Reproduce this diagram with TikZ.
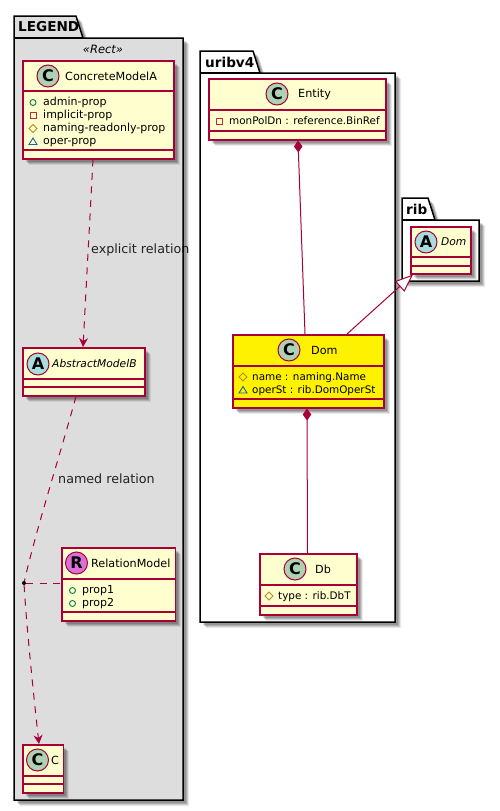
\documentclass[tikz,border=0pt]{standalone}
\usepackage{fontspec}
\setmainfont{DejaVu Sans}
\usetikzlibrary{arrows.meta,shadows}
\definecolor{umlBorder}{HTML}{A80036}
\definecolor{umlFill}{HTML}{FEFECE}
\definecolor{umlGray}{HTML}{DDDDDD}
\definecolor{umlClassSpot}{HTML}{ADD1B2}
\definecolor{umlAbstractSpot}{HTML}{A9DCDF}
\definecolor{umlRelationSpot}{HTML}{DA70D6}
\definecolor{iconPublic}{HTML}{038048}
\definecolor{iconPrivate}{HTML}{C82930}
\definecolor{iconProtected}{HTML}{B38D22}
\definecolor{iconPackage}{HTML}{1963A0}
\tikzset{
  every picture/.style={line join=miter},
  uml shadow/.style={
    drop shadow={shadow xshift=6pt,shadow yshift=-6pt,fill=black,opacity=0.08},
    drop shadow={shadow xshift=5pt,shadow yshift=-5pt,fill=black,opacity=0.12},
    drop shadow={shadow xshift=4pt,shadow yshift=-4pt,fill=black,opacity=0.15},
    drop shadow={shadow xshift=3pt,shadow yshift=-3pt,fill=black,opacity=0.15}},
  uml package/.style={draw=black, line width=1.5pt, uml shadow},
  uml package title/.style={anchor=west, inner sep=0pt, font=\fontsize{13.6}{15}\bfseries\selectfont},
  uml class/.style={draw=umlBorder, line width=1.5pt, fill=umlFill, anchor=north west,
    inner sep=0pt, uml shadow},
  uml sep/.style={draw=umlBorder, line width=1.3pt},
  uml spot/.style={circle, draw=umlBorder, line width=1pt, minimum size=22pt, inner sep=0pt,
    text=black, font=\fontsize{16}{16}\bfseries\selectfont},
  uml title/.style={anchor=west, inner sep=0pt, font=\fontsize{11.2}{14}\selectfont},
  uml member/.style={anchor=west, inner sep=0pt, text height=8pt, text depth=2pt,
    font=\fontsize{11}{13}\selectfont},
  uml field/.style={uml member, font=\fontsize{10.4}{13}\selectfont},
  uml edge label/.style={anchor=west, inner sep=0pt, text opacity=0.85,
    font=\fontsize{12.7}{15}\selectfont},
  uml line/.style={draw=umlBorder, line width=1pt},
  uml dashed/.style={uml line, dash pattern=on 7pt off 6.5pt},
  uml open/.style={-{Stealth[length=9pt,width=9pt,inset=3pt]}},
  uml compose/.style={{Diamond[length=12pt,width=8.5pt]}-},
  uml extend/.style={-{Triangle[open,fill=white,length=18pt,width=14pt]}},
  icon public/.pic={\draw[iconPublic,line width=0.9pt] (0,0) circle (3pt);},
  icon private/.pic={\draw[iconPrivate,line width=0.9pt] (-3,-3) rectangle (3,3);},
  icon protected/.pic={\draw[iconProtected,line width=0.9pt] (-4,0) -- (0,-4) -- (4,0) -- (0,4) -- cycle;},
  icon package/.pic={\draw[iconPackage,line width=0.9pt] (-4,3) -- (0,-3.5) -- (4,3) -- cycle;}
}

\begin{document}
\begin{tikzpicture}[x=1pt,y=-1pt]
  \useasboundingbox (0,0) rectangle (499,811);
  % packages
  \draw[uml package,fill=umlGray] (14,38) -- (14,16) -- (76,16) -- (83,38) -- (183,38) -- (183,800) -- (14,800) -- cycle;
  \draw[draw=black,line width=1.5pt] (14,38) -- (83,38);
  \node[uml package title] (legendTitle) at (18,27) {LEGEND};
  \node[inner sep=0pt,font=\fontsize{11.5}{14}\itshape\selectfont] (legendStereo) at (103,49) {«Rect»};
  \draw[uml package,fill=white] (200,73) -- (200,51) -- (253,51) -- (260,73) -- (395,73) -- (395,622) -- (200,622) -- cycle;
  \draw[draw=black,line width=1.5pt] (200,73) -- (260,73);
  \node[uml package title] (uribTitle) at (205,62) {uribv4};
  \draw[uml package,fill=white] (402,220) -- (402,198) -- (428,198) -- (435,220) -- (479,220) -- (479,281) -- (402,281) -- cycle;
  \draw[draw=black,line width=1.5pt] (402,220) -- (435,220);
  \node[uml package title] (ribTitle) at (406,209) {rib};

  % LEGEND classes
  \node[uml class,minimum width=151pt,minimum height=98pt] (concreteA) at (22,60) {};
  \draw[uml sep] (22,91) -- (173,91) (22,150) -- (173,150);
  \node[uml spot,fill=umlClassSpot] (concreteSpot) at (48,76) {C};
  \node[uml title] (concreteName) at (65,76) {ConcreteModelA};
  \pic at (33,102.5) {icon public};
  \node[uml member] (concreteAdmin) at (43,102.5) {admin-prop};
  \pic at (33,115.5) {icon private};
  \node[uml member] (concreteImplicit) at (43,115.5) {implicit-prop};
  \pic at (33,128.5) {icon protected};
  \node[uml member] (concreteNaming) at (43,128.5) {naming-readonly-prop};
  \pic at (33,141.5) {icon package};
  \node[uml member] (concreteOper) at (43,141.5) {oper-prop};

  \node[uml class,minimum width=122pt,minimum height=48pt] (abstractB) at (22,347) {};
  \draw[uml sep] (22,379) -- (144,379) (22,387) -- (144,387);
  \node[uml spot,fill=umlAbstractSpot] (abstractSpot) at (38,364) {A};
  \node[uml title,font=\fontsize{10.7}{14}\itshape\selectfont] (abstractName) at (52,364) {AbstractModelB};

  \node[uml class,minimum width=113.5pt,minimum height=73pt] (relationModel) at (61,547) {};
  \draw[uml sep] (61,579) -- (174.5,579) (61,612) -- (174.5,612);
  \node[uml spot,fill=umlRelationSpot] (relationSpot) at (76.5,563) {R};
  \node[uml title] (relationName) at (91,563) {RelationModel};
  \pic at (72.5,590.5) {icon public};
  \node[uml member] (relationPropA) at (82,590.5) {prop1};
  \pic at (72.5,603.5) {icon public};
  \node[uml member] (relationPropB) at (82,603.5) {prop2};

  \node[uml class,minimum width=40.5pt,minimum height=48pt] (classC) at (22,744) {};
  \draw[uml sep] (22,776) -- (62.5,776) (22,784) -- (62.5,784);
  \node[uml spot,fill=umlClassSpot] (classSpot) at (37.5,760) {C};
  \node[uml title] (className) at (51,760) {C};

  % uribv4 classes
  \node[uml class,minimum width=177pt,minimum height=61pt] (entity) at (208,78) {};
  \draw[uml sep] (208,110) -- (385,110) (208,131) -- (385,131);
  \node[uml spot,fill=umlClassSpot] (entitySpot) at (277,94) {C};
  \node[uml title] (entityName) at (298,94) {Entity};
  \pic at (219,121) {icon private};
  \node[uml field] (entityDn) at (229,121) {monPolDn : reference.BinRef};

  \node[uml class,fill=yellow,minimum width=151pt,minimum height=73pt] (dom) at (232,334) {};
  \draw[uml sep] (232,366) -- (383,366) (232,399) -- (383,399);
  \node[uml spot,fill=umlClassSpot] (domSpot) at (289,350) {C};
  \node[uml title] (domName) at (311,350) {Dom};
  \pic at (243,377) {icon protected};
  \node[uml field] (domNameProp) at (252,377) {name : naming.Name};
  \pic at (243,390) {icon package};
  \node[uml field] (domOperSt) at (252,390) {operSt : rib.DomOperSt};

  \node[uml class,minimum width=97pt,minimum height=61pt] (db) at (259,553) {};
  \draw[uml sep] (259,585) -- (356,585) (259,606) -- (356,606);
  \node[uml spot,fill=umlClassSpot] (dbSpot) at (295,569) {C};
  \node[uml title] (dbName) at (315,569) {Db};
  \pic at (269,596) {icon protected};
  \node[uml field] (dbType) at (278,596) {type : rib.DbT};

  % rib class
  \node[uml class,minimum width=60pt,minimum height=47pt] (ribDom) at (410,226) {};
  \draw[uml sep] (410,257) -- (470,257) (410,266) -- (470,266);
  \node[uml spot,fill=umlAbstractSpot] (ribSpot) at (426,242) {A};
  \node[uml title,font=\fontsize{10.7}{14}\itshape\selectfont] (ribName) at (441,242) {Dom};

  % relations
  \node[circle,fill=black,inner sep=0pt,minimum size=4pt] (relationDot) at (24,583) {};
  \draw[uml dashed,uml open] ([xshift=71pt]concreteA.south west) -- ([xshift=61pt]abstractB.north west);
  \node[uml edge label] (explicitLabel) at (91,250) {explicit relation};
  \draw[uml dashed] ([xshift=54pt]abstractB.south west) .. controls (60,455) and (36,530) .. (relationDot);
  \node[uml edge label] (namedLabel) at (58,479) {named relation};
  \draw[uml dashed] (relationDot) -- (relationDot -| relationModel.west);
  \draw[uml dashed,uml open] (relationDot) .. controls (26,620) and (33,690) .. ([xshift=17pt]classC.north west);
  \draw[uml line,uml compose] ([xshift=90pt]entity.south west) -- ([xshift=73pt]dom.north west);
  \draw[uml line,uml compose] ([xshift=75pt]dom.south west) -- ([xshift=48.5pt]db.north west);
  \draw[uml line,uml extend] ([xshift=115pt]dom.north west) -- ([xshift=3pt]ribDom.south west);
\end{tikzpicture}
\end{document}
